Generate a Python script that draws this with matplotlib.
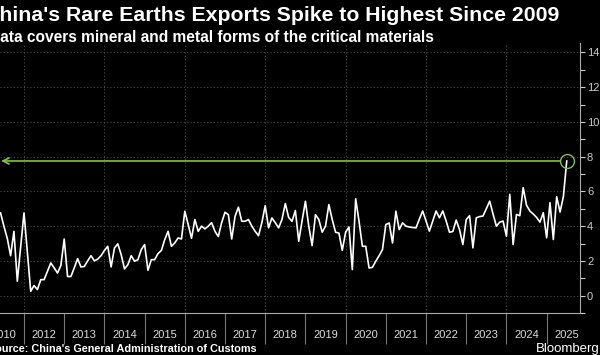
import numpy as np
import matplotlib.pyplot as plt
from matplotlib.ticker import MultipleLocator

plt.rcParams["font.family"] = ["Liberation Sans", "DejaVu Sans"]

# Monthly rare earth exports, Jun 2011 -> Jul 2025
exports = [
    4.76, 4.0, 3.3, 2.3, 3.7, 0.83, 2.8,
    4.76, 2.5, 0.25, 0.58, 0.35, 0.92, 0.92, 1.4, 1.88, 1.6, 1.3, 1.73,
    3.26, 1.1, 1.1, 1.6, 2.13, 1.65, 1.68, 2.0, 2.3, 2.0, 2.1, 2.3,
    2.6, 2.84, 1.65, 2.74, 2.98, 2.36, 1.54, 1.78, 2.3, 1.98, 2.07, 2.65,
    2.94, 1.46, 2.07, 2.07, 2.42, 2.6, 3.22, 3.7, 2.84, 3.03, 3.32, 3.26,
    4.86, 4.1, 3.3, 4.38, 3.7, 4.0, 3.84, 4.0, 4.2, 3.7, 3.4, 4.2,
    4.8, 4.66, 3.26, 4.57, 5.09, 4.28, 4.28, 4.38, 4.0, 3.7, 3.45, 4.2,
    5.18, 3.9, 4.47, 4.2, 3.9, 4.38, 5.3, 4.5, 4.28, 4.9, 3.13, 4.3,
    5.43, 4.0, 2.88, 4.66, 4.38, 3.65, 4.0, 5.24, 4.38, 3.65, 3.6, 2.61,
    3.65, 3.95, 1.5, 5.57, 4.28, 2.84, 2.84, 1.59, 1.63, 1.98, 2.3, 2.65,
    4.09, 4.18, 3.03, 4.86, 3.8, 4.19, 4.0, 3.95, 3.92, 3.9, 4.4, 4.87,
    4.3, 3.71, 4.3, 4.87, 4.48, 4.87, 4.3, 3.65, 3.69, 4.35, 3.8, 2.94,
    4.38, 4.6, 2.75, 4.48, 4.55, 4.58, 5.0, 5.44, 4.7, 4.0, 4.23, 4.29,
    3.42, 5.83, 2.94, 4.67, 4.6, 6.21, 5.2, 4.87, 4.7, 4.5, 4.23, 4.77,
    3.33, 5.35, 3.23, 5.69, 4.81, 5.7, 7.75,
]
first_month = 2011 + 5 / 12
months = first_month + np.arange(len(exports)) / 12

year_ticks = list(range(2012, 2026))
year_labels = ["2010", "2012", "2013", "2014", "2015", "2016", "2017", "2018",
               "2019", "2020", "2021", "2022", "2023", "2024", "2025"]
label_years = [2011] + year_ticks

green = "#86c13f"
grid_col = "#4a4a4a"

fig = plt.figure(figsize=(6, 3.55), dpi=100, facecolor="black")
ax = fig.add_axes([0, 1 - 313 / 355, 580 / 600, (313 - 42.5) / 355])
ax.set_facecolor("black")

# gridlines
ax.set_xlim(2011.403, 2025.83)
ax.set_ylim(-1, 14.57)
for v in range(0, 15, 2):
    ax.axhline(v, color=grid_col, lw=0.8, ls=(0, (1, 2)), zorder=1)
for yr in year_ticks[::2]:
    ax.axvline(yr, color=grid_col, lw=0.8, ls=(0, (1, 2)), zorder=1)

ax.plot(months, exports, color="white", lw=1.2, zorder=3)

# highlight latest value
last = exports[-1]
ax.annotate("", xy=(2011.43, last), xytext=(months[-1], last),
            arrowprops=dict(arrowstyle="->", color=green, lw=1.2,
                            shrinkA=5, shrinkB=0, mutation_scale=11),
            zorder=2)
ax.plot(months[-1], last, "o", mfc="none", mec=green, ms=10, mew=1, zorder=4)

# axes styling
for s in ["top", "left"]:
    ax.spines[s].set_visible(False)
for s in ["bottom", "right"]:
    ax.spines[s].set_color("#aaaaaa")
    ax.spines[s].set_linewidth(0.8)

ax.yaxis.tick_right()
ax.set_yticks(range(0, 15, 2))
ax.yaxis.set_minor_locator(MultipleLocator(1))
ax.tick_params(axis="y", which="both", colors="#cccccc", length=3.5, width=0.8,
               pad=1.5, labelsize=8)

ax.set_xticks(year_ticks)
ax.set_xticklabels([])
ax.set_xticks([y + 0.5 for y in label_years], minor=True)
ax.set_xticklabels(year_labels, minor=True)
ax.tick_params(axis="x", which="major", length=22, width=0.8, color="#777777")
ax.tick_params(axis="x", which="minor", length=0, pad=12, labelsize=8,
               labelcolor="#dddddd")

# titles and footer
fig.text(-15.5 / 600, 1 - 21 / 355, "China's Rare Earths Exports Spike to Highest Since 2009",
         color="white", fontsize=15.3, fontweight="bold",
         va="baseline", ha="left")
fig.text(-11.2 / 600, 1 - 41.5 / 355, "Data covers mineral and metal forms of the critical materials",
         color="white", fontsize=11.2, fontweight="bold",
         va="baseline", ha="left")
fig.text(-12.3 / 600, 1 - 352 / 355, "Source: China's General Administration of Customs",
         color="white", fontsize=7.8, fontweight="bold",
         va="baseline", ha="left")
fig.text(1.0, 1 - 352 / 355, "Bloomberg", color="white", fontsize=9.5,
         va="baseline", ha="right")

plt.savefig("out.png", dpi=100, facecolor="black")
